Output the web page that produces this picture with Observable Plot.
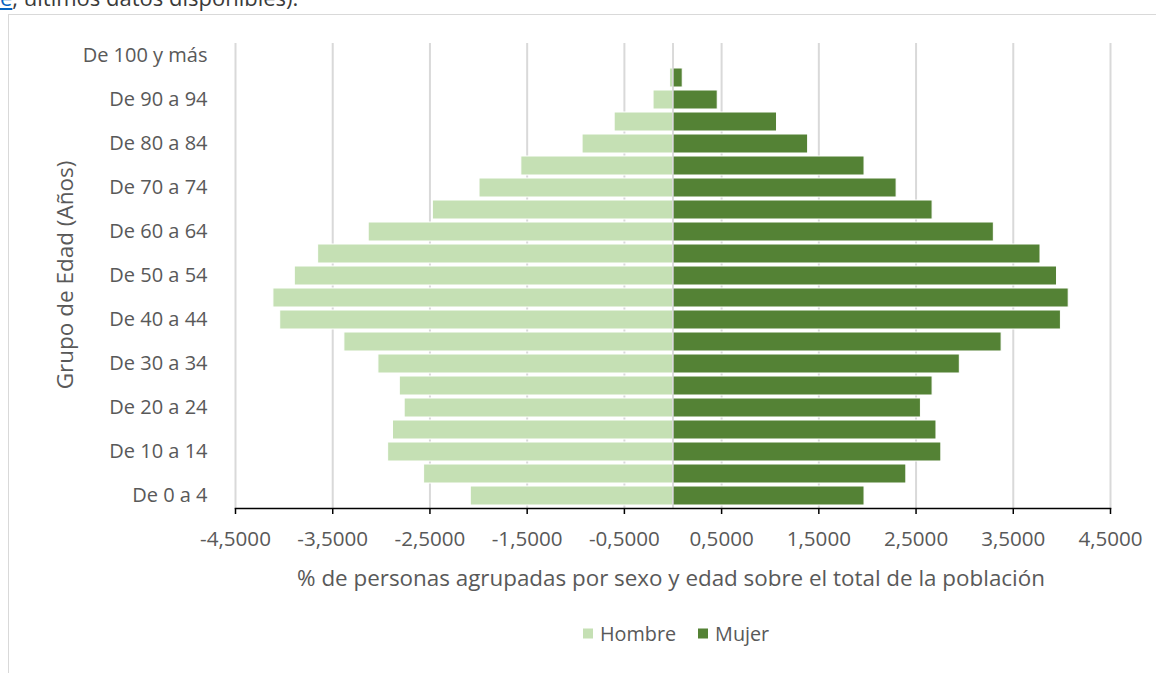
<!DOCTYPE html>
<html>
<head>
<meta charset="utf-8">
<script src="https://cdn.jsdelivr.net/npm/d3@7"></script>
<script src="https://cdn.jsdelivr.net/npm/@observablehq/plot@0.6"></script>
<style>
  html, body { margin: 0; padding: 0; background: #fff; }
  body { font-family: "Open Sans", sans-serif; }
  #page { position: relative; width: 1156px; height: 673px; overflow: hidden; background: #fff; }
  #top { position: absolute; left: 0; top: -14px; font-size: 22px; line-height: 22px; color: #3a3a3a; white-space: nowrap; }
  #top a { color: #0563c1; text-decoration: underline; }
  #box { position: absolute; left: 8px; top: 14px; width: 1200px; height: 720px; border: 1.5px solid #d9d9d9; box-sizing: border-box; }
  #chart { position: absolute; left: 0; top: 0; }
  .ytitle { position: absolute; left: 64px; top: 275px; transform: translate(-50%, -50%) rotate(-90deg); font-size: 22.5px; color: #595959; white-space: nowrap; }
  .xtitle { position: absolute; left: 671px; top: 577px; transform: translate(-50%, -50%); font-size: 22.4px; color: #595959; white-space: nowrap; }
  .legend { position: absolute; left: 583px; top: 633px; transform: translateY(-50%); display: flex; align-items: center; font-size: 19.8px; color: #595959; white-space: nowrap; }
  .legend .sw { display: inline-block; width: 10px; height: 10px; margin-right: 7px; }
  .legend .item { display: flex; align-items: center; margin-right: 22px; }
</style>
</head>
<body>
<div id="page">
  <div id="top"><a>e</a>, últimos datos disponibles).</div>
  <div id="box"></div>
  <div id="chart"></div>
  <div class="ytitle">Grupo de Edad (Años)</div>
  <div class="xtitle">% de personas agrupadas por sexo y edad sobre el total de la población</div>
  <div class="legend" id="legend"></div>
</div>
<script>
const ageGroups = ["De 0 a 4","De 5 a 9","De 10 a 14","De 15 a 19","De 20 a 24","De 25 a 29","De 30 a 34","De 35 a 39","De 40 a 44","De 45 a 49","De 50 a 54","De 55 a 59","De 60 a 64","De 65 a 69","De 70 a 74","De 75 a 79","De 80 a 84","De 85 a 89","De 90 a 94","De 95 a 99","De 100 y más"];
const hombre = [2.08,2.56,2.93,2.88,2.76,2.81,3.03,3.38,4.04,4.11,3.89,3.65,3.13,2.47,1.99,1.56,0.93,0.60,0.20,0.03,0.004];
const mujer  = [1.97,2.40,2.76,2.71,2.55,2.67,2.95,3.38,3.99,4.07,3.95,3.78,3.30,2.67,2.30,1.97,1.39,1.07,0.46,0.10,0.006];
const sexes = ["Hombre","Mujer"];
const sexColors = ["#c5e0b4","#548235"];
const xTicks = [-4.5,-3.5,-2.5,-1.5,-0.5,0.5,1.5,2.5,3.5,4.5];
const yTickLabels = ageGroups.filter((d, i) => i % 2 === 0);

const rows = ageGroups.flatMap((g, i) => [
  {grupo: g, sexo: "Hombre", v: -hombre[i]},
  {grupo: g, sexo: "Mujer", v: mujer[i]}
]);

const fmt = d => (d < 0 ? "-" : "") + Math.abs(d).toFixed(4).replace(".", ",");

const plot = Plot.plot({
  width: 1156,
  height: 560,
  marginLeft: 235,
  marginRight: 46,
  marginTop: 43,
  marginBottom: 52,
  style: {fontFamily: "Open Sans", fontSize: "20.6px", color: "#595959", background: "transparent", overflow: "visible"},
  x: {domain: [-4.5, 4.5]},
  y: {domain: ageGroups.slice().reverse(), padding: 0.12},
  color: {domain: sexes, range: sexColors},
  marks: [
    Plot.ruleX(xTicks, {stroke: "#d9d9d9", strokeWidth: 2}),
    Plot.barX(rows, {x: "v", y: "grupo", fill: "sexo", stroke: "#ffffff", strokeWidth: 1}),
    Plot.ruleX([0], {stroke: "#cfcfcf", strokeWidth: 1.5}),
    Plot.frame({anchor: "bottom", stroke: "#000", strokeWidth: 1.5}),
    Plot.axisX({ticks: xTicks, tickFormat: fmt, tickSize: 6, tickPadding: 17, stroke: "#000", strokeWidth: 1.5, fill: "#595959", label: null}),
    Plot.axisY({ticks: yTickLabels, tickSize: 0, tickPadding: 28, fill: "#595959", label: null, fontSize: 20})
  ]
});
document.getElementById("chart").appendChild(plot);

const legend = document.getElementById("legend");
sexes.forEach((s, i) => {
  const item = document.createElement("span");
  item.className = "item";
  const sw = document.createElement("span");
  sw.className = "sw";
  sw.style.background = sexColors[i];
  item.appendChild(sw);
  item.appendChild(document.createTextNode(s));
  legend.appendChild(item);
});
</script>
</body>
</html>
